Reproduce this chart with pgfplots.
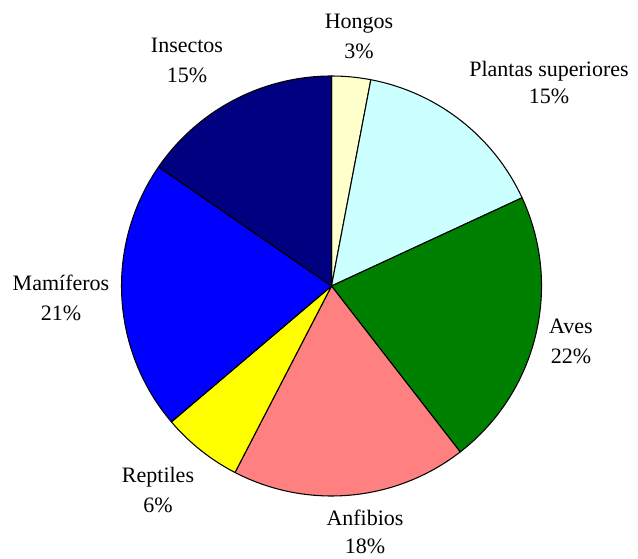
\documentclass[border=0pt]{standalone}
\usepackage{pgfplots}
\pgfplotsset{compat=1.18}
\usepackage{pgfplotstable}
\usepackage{fontspec}
\setmainfont{Liberation Serif}
\newfontfamily\lserif{Liberation Serif}
\definecolor{hongos}{HTML}{FFFFCC}
\definecolor{plantas}{HTML}{CCFFFF}
\definecolor{aves}{HTML}{008000}
\definecolor{anfibios}{HTML}{FF8080}
\definecolor{reptiles}{HTML}{FFFF00}
\definecolor{mamiferos}{HTML}{0000FF}
\definecolor{insectos}{HTML}{000080}
\pgfplotstableread{
name value color
Hongos 3.0 hongos
Plantas 15.1 plantas
Aves 21.4 aves
Anfibios 18.1 anfibios
Reptiles 6.2 reptiles
Mamiferos 20.8 mamiferos
Insectos 15.4 insectos
}\datatable
\begin{document}
\begin{tikzpicture}
\begin{axis}[
  x=0.75pt, y=0.75pt,
  xmin=0, xmax=638, ymin=0, ymax=558,
  hide axis, clip=false,
]
\path (rel axis cs:0,0) rectangle (rel axis cs:1,1);
\gdef\startang{90}
\pgfplotsforeachungrouped \i in {0,...,6}{%
  \pgfplotstablegetelem{\i}{value}\of\datatable
  \let\v=\pgfplotsretval
  \pgfplotstablegetelem{\i}{color}\of\datatable
  \let\c=\pgfplotsretval
  \pgfmathsetmacro\endang{\startang-3.6*\v}%
  \edef\temp{\noexpand\filldraw[fill=\c, draw=black, line width=0.8pt, line join=round]
    (axis cs:331.5,272) -- ++(\startang:157.5pt)
    arc[start angle=\startang, end angle=\endang, radius=157.5pt] -- cycle;}%
  \temp
  \global\let\startang\endang
}
\tikzset{lbl/.style={anchor=base, inner sep=0pt, font=\lserif\fontsize{16.5}{20}\selectfont}}
\node[lbl] at (axis cs:359,529) {Hongos};
\node[lbl] at (axis cs:359,499) {3\%};
\node[lbl] at (axis cs:549,481) {Plantas superiores};
\node[lbl] at (axis cs:549,454) {15\%};
\node[lbl] at (axis cs:571,225) {Aves};
\node[lbl] at (axis cs:571,195) {22\%};
\node[lbl] at (axis cs:365,33) {Anfibios};
\node[lbl] at (axis cs:365,5) {18\%};
\node[lbl] at (axis cs:158,76) {Reptiles};
\node[lbl] at (axis cs:158,46) {6\%};
\node[lbl] at (axis cs:61,268) {Mamíferos};
\node[lbl] at (axis cs:61,238) {21\%};
\node[lbl] at (axis cs:187,505) {Insectos};
\node[lbl] at (axis cs:187,475) {15\%};
\end{axis}
\end{tikzpicture}
\end{document}
